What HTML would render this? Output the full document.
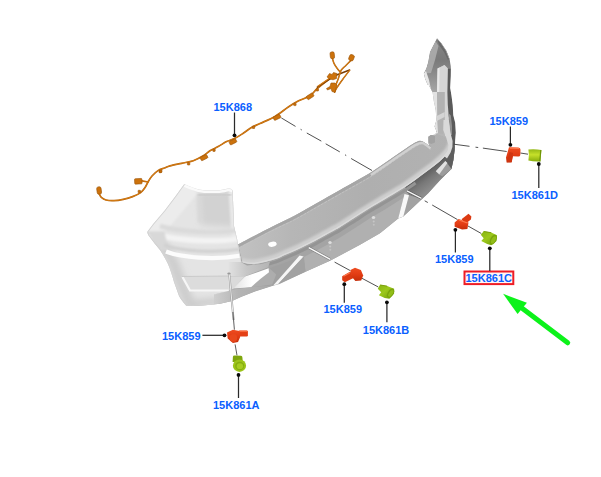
<!DOCTYPE html>
<html>
<head>
<meta charset="utf-8">
<title>Rear bumper parking sensors</title>
<style>
html,body{margin:0;padding:0;background:#fff;}
body{width:601px;height:477px;overflow:hidden;font-family:"Liberation Sans",sans-serif;}
svg{display:block;}
.lbl{font-family:"Liberation Sans",sans-serif;font-weight:bold;font-size:11px;fill:#0a60ff;}
.ld{stroke:#2a2a2a;stroke-width:1.25;fill:none;}
.dot{fill:#0a0a0a;}
.dash{stroke:#484848;stroke-width:0.95;fill:none;}
</style>
</head>
<body>
<svg width="601" height="477" viewBox="0 0 601 477">
<defs>
<filter id="b3" x="-20%" y="-20%" width="140%" height="140%"><feGaussianBlur stdDeviation="3"/></filter>
<filter id="b1" x="-20%" y="-20%" width="140%" height="140%"><feGaussianBlur stdDeviation="1.2"/></filter>
<filter id="b05" x="-20%" y="-20%" width="140%" height="140%"><feGaussianBlur stdDeviation="0.5"/></filter>
<linearGradient id="gRed" x1="0" y1="0" x2="0" y2="1"><stop offset="0" stop-color="#ee4c20"/><stop offset="0.5" stop-color="#e23c14"/><stop offset="1" stop-color="#c42e0a"/></linearGradient>
<linearGradient id="gGrn" x1="0" y1="0" x2="0" y2="1"><stop offset="0" stop-color="#93b816"/><stop offset="0.45" stop-color="#c6e02a"/><stop offset="1" stop-color="#86ac0c"/></linearGradient>
<linearGradient id="gGrnD" x1="0" y1="0" x2="1" y2="1"><stop offset="0" stop-color="#86b412"/><stop offset="0.45" stop-color="#9cc81c"/><stop offset="1" stop-color="#6c980a"/></linearGradient>
</defs>
<rect width="601" height="477" fill="#ffffff"/>

<!-- BUMPER -->
<g id="bumper">
<path d="M238 244.5 L253 236.6 L260 232.9 L276 224.8 L290 218.1 L299 213.3 L310 207 L340 190 L370 173 L390 159.4 L403.4 150.2 L415.2 142.6 L421 140.9 L426 143.4 L429.5 146.5 L428.5 143 L428.5 137 L431 135 L435 135.5 L437 133 L435.5 127 L454.8 128 L454.8 142 L454.6 150 L453.4 160 L451.4 169 L445 175.3 L440 180.3 L428.2 193.3 L421.5 199.6 L403.3 216.5 L398.2 218.4 L380 233.2 L360 244.8 L330 260.8 L305.5 271.8 L279.5 284 L273 285.8 L255 291.5 L241.6 296.8 L232 301 L220 303.7 L200 305.7 L186 305.5 L200 270 Z" fill="#a4a4a4"/>
<path d="M304 257 L325 246 L340 237.5 L355 228 L370 218.3 L385 209.5 L404.5 197 L398.2 218.4 L380 233.2 L360 244.8 L330 260.8 L305.5 271.8 Z" fill="#b0b0b0"/>
<linearGradient id="gRF" gradientUnits="userSpaceOnUse" x1="428" y1="170" x2="438" y2="184"><stop offset="0" stop-color="#5e5e5e"/><stop offset="0.45" stop-color="#787878"/><stop offset="1" stop-color="#8c8c8c"/></linearGradient>
<path d="M405 186.5 L415 179.5 L425 172 L435 164.5 L443.3 157 L449.4 149.5 L452.2 141 L454.8 140 L454.6 150 L453.4 160 L451.4 169 L445 175.3 L440 180.3 L428.2 193.3 L421.5 199.6 L409 195.2 Z" fill="url(#gRF)"/>
<path d="M449.4 150.5 L452.2 142 L454.8 140 L454.6 150 L453.4 160 L451.4 169 L447.4 163 L445.4 161.1 Z" fill="#5e5e5e"/>
<linearGradient id="gTS" gradientUnits="userSpaceOnUse" x1="238" y1="0" x2="452" y2="0"><stop offset="0" stop-color="#c2c2c2"/><stop offset="0.25" stop-color="#b6b6b6"/><stop offset="0.6" stop-color="#afafaf"/><stop offset="1" stop-color="#b2b2b2"/></linearGradient>
<path d="M238.00 244.50 C240.50 243.18 249.33 238.53 253.00 236.60 C256.67 234.67 256.17 234.87 260.00 232.90 C263.83 230.93 271.00 227.27 276.00 224.80 C281.00 222.33 286.17 220.02 290.00 218.10 C293.83 216.18 295.67 215.15 299.00 213.30 C302.33 211.45 303.17 210.88 310.00 207.00 C316.83 203.12 330.00 195.67 340.00 190.00 C350.00 184.33 361.67 178.10 370.00 173.00 C378.33 167.90 384.43 163.20 390.00 159.40 C395.57 155.60 399.20 153.00 403.40 150.20 C407.60 147.40 412.27 144.15 415.20 142.60 C418.13 141.05 419.20 140.77 421.00 140.90 C422.80 141.03 424.58 142.47 426.00 143.40 C427.42 144.33 428.92 145.98 429.50 146.50 L428.5 143 L428.5 137 L431 135 L435 135.5 L437 133 L435.5 127 L452.3 128 L452.50 128.00 C452.45 130.33 452.72 138.25 452.20 142.00 C451.68 145.75 450.88 147.83 449.40 150.50 C447.92 153.17 445.70 155.53 443.30 158.00 C440.90 160.47 438.05 162.83 435.00 165.30 C431.95 167.77 428.33 170.30 425.00 172.80 C421.67 175.30 418.33 177.90 415.00 180.30 C411.67 182.70 408.33 185.03 405.00 187.20 C401.67 189.37 398.33 191.30 395.00 193.30 C391.67 195.30 389.17 196.75 385.00 199.20 C380.83 201.65 375.00 204.93 370.00 208.00 C365.00 211.07 360.00 214.40 355.00 217.60 C350.00 220.80 343.33 225.13 340.00 227.20 C336.67 229.27 337.50 228.62 335.00 230.00 C332.50 231.38 328.33 233.67 325.00 235.50 C321.67 237.33 318.33 239.25 315.00 241.00 C311.67 242.75 308.33 244.37 305.00 246.00 C301.67 247.63 298.33 249.30 295.00 250.80 C291.67 252.30 288.33 253.58 285.00 255.00 C281.67 256.42 279.50 257.87 275.00 259.30 C270.50 260.73 262.17 262.82 258.00 263.60 C253.83 264.38 252.58 264.17 250.00 264.00 C247.42 263.83 243.75 262.83 242.50 262.60 Z" fill="url(#gTS)"/>
<clipPath id="topClip"><path d="M238.00 244.50 C240.50 243.18 249.33 238.53 253.00 236.60 C256.67 234.67 256.17 234.87 260.00 232.90 C263.83 230.93 271.00 227.27 276.00 224.80 C281.00 222.33 286.17 220.02 290.00 218.10 C293.83 216.18 295.67 215.15 299.00 213.30 C302.33 211.45 303.17 210.88 310.00 207.00 C316.83 203.12 330.00 195.67 340.00 190.00 C350.00 184.33 361.67 178.10 370.00 173.00 C378.33 167.90 384.43 163.20 390.00 159.40 C395.57 155.60 399.20 153.00 403.40 150.20 C407.60 147.40 412.27 144.15 415.20 142.60 C418.13 141.05 419.20 140.77 421.00 140.90 C422.80 141.03 424.58 142.47 426.00 143.40 C427.42 144.33 428.92 145.98 429.50 146.50 L428.5 143 L428.5 137 L431 135 L435 135.5 L437 133 L435.5 127 L452.3 128 L452.50 128.00 C452.45 130.33 452.72 138.25 452.20 142.00 C451.68 145.75 450.88 147.83 449.40 150.50 C447.92 153.17 445.70 155.53 443.30 158.00 C440.90 160.47 438.05 162.83 435.00 165.30 C431.95 167.77 428.33 170.30 425.00 172.80 C421.67 175.30 418.33 177.90 415.00 180.30 C411.67 182.70 408.33 185.03 405.00 187.20 C401.67 189.37 398.33 191.30 395.00 193.30 C391.67 195.30 389.17 196.75 385.00 199.20 C380.83 201.65 375.00 204.93 370.00 208.00 C365.00 211.07 360.00 214.40 355.00 217.60 C350.00 220.80 343.33 225.13 340.00 227.20 C336.67 229.27 337.50 228.62 335.00 230.00 C332.50 231.38 328.33 233.67 325.00 235.50 C321.67 237.33 318.33 239.25 315.00 241.00 C311.67 242.75 308.33 244.37 305.00 246.00 C301.67 247.63 298.33 249.30 295.00 250.80 C291.67 252.30 288.33 253.58 285.00 255.00 C281.67 256.42 279.50 257.87 275.00 259.30 C270.50 260.73 262.17 262.82 258.00 263.60 C253.83 264.38 252.58 264.17 250.00 264.00 C247.42 263.83 243.75 262.83 242.50 262.60 Z"/></clipPath>
<g clip-path="url(#topClip)">
<path d="M241.50 260.40 C242.75 260.63 246.42 261.63 249.00 261.80 C251.58 261.97 252.83 262.18 257.00 261.40 C261.17 260.62 269.50 258.53 274.00 257.10 C278.50 255.67 280.67 254.22 284.00 252.80 C287.33 251.38 290.67 250.10 294.00 248.60 C297.33 247.10 300.67 245.43 304.00 243.80 C307.33 242.17 310.67 240.55 314.00 238.80 C317.33 237.05 320.67 235.13 324.00 233.30 C327.33 231.47 331.50 229.18 334.00 227.80 C336.50 226.42 335.67 227.07 339.00 225.00 C342.33 222.93 349.00 218.60 354.00 215.40 C359.00 212.20 364.00 208.87 369.00 205.80 C374.00 202.73 379.83 199.45 384.00 197.00 C388.17 194.55 390.67 193.10 394.00 191.10 C397.33 189.10 400.67 187.17 404.00 185.00 C407.33 182.83 410.67 180.50 414.00 178.10 C417.33 175.70 420.67 173.10 424.00 170.60 C427.33 168.10 430.95 165.57 434.00 163.10 C437.05 160.63 439.90 158.27 442.30 155.80 C444.70 153.33 446.92 150.97 448.40 148.30 C449.88 145.63 450.68 143.55 451.20 139.80 C451.72 136.05 451.45 128.13 451.50 125.80" fill="none" stroke="#cfcfcf" stroke-width="5" filter="url(#b1)"/>
<path d="M242.30 262.00 C243.55 262.23 247.22 263.23 249.80 263.40 C252.38 263.57 253.63 263.78 257.80 263.00 C261.97 262.22 270.30 260.13 274.80 258.70 C279.30 257.27 281.47 255.82 284.80 254.40 C288.13 252.98 291.47 251.70 294.80 250.20 C298.13 248.70 301.47 247.03 304.80 245.40 C308.13 243.77 311.47 242.15 314.80 240.40 C318.13 238.65 321.47 236.73 324.80 234.90 C328.13 233.07 332.30 230.78 334.80 229.40 C337.30 228.02 336.47 228.67 339.80 226.60 C343.13 224.53 349.80 220.20 354.80 217.00 C359.80 213.80 364.80 210.47 369.80 207.40 C374.80 204.33 380.63 201.05 384.80 198.60 C388.97 196.15 391.47 194.70 394.80 192.70 C398.13 190.70 401.47 188.77 404.80 186.60 C408.13 184.43 411.47 182.10 414.80 179.70 C418.13 177.30 421.47 174.70 424.80 172.20 C428.13 169.70 431.75 167.17 434.80 164.70 C437.85 162.23 440.70 159.87 443.10 157.40 C445.50 154.93 447.72 152.57 449.20 149.90 C450.68 147.23 451.48 145.15 452.00 141.40 C452.52 137.65 452.25 129.73 452.30 127.40" fill="none" stroke="#dadada" stroke-width="1.8" stroke-linejoin="round"/>
<path d="M238.60 245.70 C241.10 244.38 249.93 239.73 253.60 237.80 C257.27 235.87 256.77 236.07 260.60 234.10 C264.43 232.13 271.60 228.47 276.60 226.00 C281.60 223.53 286.77 221.22 290.60 219.30 C294.43 217.38 296.27 216.35 299.60 214.50 C302.93 212.65 303.77 212.08 310.60 208.20 C317.43 204.32 330.60 196.87 340.60 191.20 C350.60 185.53 362.27 179.30 370.60 174.20 C378.93 169.10 385.03 164.40 390.60 160.60 C396.17 156.80 399.80 154.20 404.00 151.40 C408.20 148.60 412.87 145.35 415.80 143.80 C418.73 142.25 419.80 141.97 421.60 142.10 C423.40 142.23 425.18 143.67 426.60 144.60 C428.02 145.53 429.52 147.18 430.10 147.70" fill="none" stroke="#a6a6a6" stroke-width="3"/>
<path d="M239.50 247.70 C242.00 246.38 250.83 241.73 254.50 239.80 C258.17 237.87 257.67 238.07 261.50 236.10 C265.33 234.13 272.50 230.47 277.50 228.00 C282.50 225.53 287.67 223.22 291.50 221.30 C295.33 219.38 297.17 218.35 300.50 216.50 C303.83 214.65 304.67 214.08 311.50 210.20 C318.33 206.32 331.50 198.87 341.50 193.20 C351.50 187.53 363.17 181.30 371.50 176.20 C379.83 171.10 385.93 166.40 391.50 162.60 C397.07 158.80 400.70 156.20 404.90 153.40 C409.10 150.60 413.77 147.35 416.70 145.80 C419.63 144.25 420.70 143.97 422.50 144.10 C424.30 144.23 426.08 145.67 427.50 146.60 C428.92 147.53 430.42 149.18 431.00 149.70" fill="none" stroke="#c4c4c4" stroke-width="0.9" stroke-dasharray="3 1"/>
<path d="M370.90 175.00 C374.23 172.73 385.33 165.20 390.90 161.40 C396.47 157.60 400.10 155.00 404.30 152.20 C408.50 149.40 413.17 146.15 416.10 144.60 C419.03 143.05 420.10 142.77 421.90 142.90 C423.70 143.03 425.48 144.47 426.90 145.40 C428.32 146.33 429.82 147.98 430.40 148.50" fill="none" stroke="#d0d0d0" stroke-width="2.4" stroke-linejoin="round"/>
</g>
<path d="M258.60 266.40 C261.43 265.68 271.10 263.53 275.60 262.10 C280.10 260.67 282.27 259.22 285.60 257.80 C288.93 256.38 292.27 255.10 295.60 253.60 C298.93 252.10 302.27 250.43 305.60 248.80 C308.93 247.17 312.27 245.55 315.60 243.80 C318.93 242.05 322.27 240.13 325.60 238.30 C328.93 236.47 333.10 234.18 335.60 232.80 C338.10 231.42 337.27 232.07 340.60 230.00 C343.93 227.93 350.60 223.60 355.60 220.40 C360.60 217.20 365.60 213.87 370.60 210.80 C375.60 207.73 381.43 204.45 385.60 202.00 C389.77 199.55 392.27 198.10 395.60 196.10 C398.93 194.10 402.27 192.17 405.60 190.00 C408.93 187.83 413.93 184.25 415.60 183.10" fill="none" stroke="#949494" stroke-width="3" stroke-linejoin="round"/>
<ellipse cx="272.4" cy="244.2" rx="4.3" ry="2.6" fill="#ffffff" transform="rotate(-8 272.4 244.2)"/>
<ellipse cx="330" cy="242.5" rx="1.7" ry="1.5" fill="#dedede"/>
<circle cx="330.2" cy="246.5" r="1" fill="#c6c6c6"/>
<circle cx="330.3" cy="249.8" r="1" fill="#c2c2c2"/>
<ellipse cx="373.5" cy="217.5" rx="1.7" ry="1.5" fill="#dedede"/>
<circle cx="373.7" cy="221.5" r="1" fill="#c6c6c6"/>
<circle cx="373.8" cy="224.8" r="1" fill="#c2c2c2"/>
<path d="M270 268 L302 256.5 L273.5 285.5 L253.5 287 Z" fill="#a0a0a0"/>
<path d="M273.2 285.6 L299.6 255.6 L303.6 256.6 L278.2 284 Z" fill="#f6f6f6"/>
<path d="M278.2 284 L303.6 256.8 L305.5 271.8 Z" fill="#a2a2a2"/>
<path d="M404.5 193.9 L409 195.2 L421.5 199.6 L403.3 216.5 L398.2 218.4 Z" fill="#a2a2a2"/>
<path d="M404.5 193.9 L409 195.2 L403.3 216.5 L398.2 218.4 Z" fill="#f8f8f8"/>
<path d="M435.8 171.2 L445.4 161.1 L451.4 169 L442.3 176.2 L438.8 174.5 Z" fill="#9c9c9c"/>
<path d="M435.8 171.2 L445.4 161.1 L447.4 163.1 L439.3 174.2 Z" fill="#e2e2e2"/>
<!-- lower-left: face under rim, reflector, lip -->
<linearGradient id="gLF" gradientUnits="userSpaceOnUse" x1="228" y1="0" x2="270" y2="0"><stop offset="0" stop-color="#e2e2e2"/><stop offset="0.45" stop-color="#c6c6c6"/><stop offset="1" stop-color="#b4b4b4"/></linearGradient>
<path d="M228 262 L241.6 262.5 L247 265.5 L261.6 264 L270 261.5 L268.2 267.3 L245 276.3 L228 276.3 Z" fill="url(#gLF)"/>
<path d="M228 276.3 L245 276.3 L233 289 L228 291 Z" fill="#dadada"/>
<path d="M268.2 267.3 L276.2 274.6 L272.2 284.6 L251 287.3 L260.3 278 L268.2 272 Z" fill="#adadad"/>
<linearGradient id="gRefl" gradientUnits="userSpaceOnUse" x1="233" y1="0" x2="252" y2="0"><stop offset="0" stop-color="#e2e2e2"/><stop offset="0.55" stop-color="#f2f2f2"/><stop offset="1" stop-color="#ffffff"/></linearGradient>
<path d="M233 288.6 L245 276.6 L268.6 268.2 L269 272.2 L260.3 279 L251 287.3 Z" fill="url(#gRefl)"/>
<linearGradient id="gLip" gradientUnits="userSpaceOnUse" x1="215" y1="0" x2="274" y2="0"><stop offset="0" stop-color="#cecece"/><stop offset="0.4" stop-color="#b4b4b4"/><stop offset="1" stop-color="#a8a8a8"/></linearGradient>
<path d="M213 294.5 L233 289.5 L251 287.3 L273.6 285.3 L255 291.3 L241.6 296.6 L232 301 L220 303.7 L213 304.6 Z" fill="url(#gLip)"/>
<!-- left cap -->
<clipPath id="capClip"><path d="M184.3 184.1 Q188 186 192.8 187.5 Q198 189.8 204.2 190.3 L219.2 190.3 Q225 189.5 228.7 188.3 Q231.5 188.3 232.6 190.3 L233.4 209 L234 226 L237.2 239.2 L239 250.5 L241.5 262.5 L228.5 262.5 L228.5 291 L232 290 L214 294.5 L214 304.6 L200 305.7 L186 305.5 Q181 300 179 296 L174 282 Q171 271 168 264 Q164 256 160 250 L155 244 L148.5 235.4 Q146.8 233 147.5 231.6 L153.2 224 L164.5 210.8 L175.8 195.8 Z"/></clipPath>
<g clip-path="url(#capClip)">
<rect x="140" y="180" width="120" height="130" fill="#e4e4e4"/>
<g filter="url(#b3)">
<path d="M199 192 L233 190 L236 227 L201 225 Z" fill="#d2d2d2"/>
<path d="M150 236 L168 264 L174 282 L186 310 L198 310 L186 280 L178 260 L164 240 Z" fill="#cdcdcd"/>
<path d="M186 308 L240 302 L240 296 L192 300 Z" fill="#cccccc"/>
</g>
<g filter="url(#b1)">
<path d="M184 182 L143 231 L166 231 L198 193 Z" fill="#ececec"/>
<path d="M196.5 193 L201 193 L202 224 L197.5 222 Z" fill="#d6d6d6" opacity="0.6"/>
<path d="M228.5 190 L234 190 L239 240 L232 240 Z" fill="#e9e9e9"/>
<path d="M160 226 C175 231 215 234.5 238 230" fill="none" stroke="#dadada" stroke-width="4.5"/>
<path d="M158 232 C175 237 215 240.5 240 236 L240 241 C215 246 175 243 160 238 Z" fill="#f3f3f3"/>
<path d="M147.5 231.6 L164.5 231.6 L168.3 250.5 L160 250 Z" fill="#d8d8d8"/>
<path d="M164 245 C180 251 215 253.5 241 249" fill="none" stroke="#d0d0d0" stroke-width="3"/>
</g>
<path d="M166 251.5 C180 257.5 215 260.5 241.5 255.5" fill="none" stroke="#fcfcfc" stroke-width="4.2"/>
<path d="M184.3 185.6 Q188 187.5 192.8 189 Q198 191.3 204.2 191.8 L219.2 191.8 Q225 191 228.7 189.8 L232.6 191.3" fill="none" stroke="#fafafa" stroke-width="2.4"/>
<path d="M198 195 L231 194.5" fill="none" stroke="#cccccc" stroke-width="3" filter="url(#b1)"/>
<path d="M184.3 184.1 L175.8 195.8 L164.5 210.8 L153.2 224 L147.5 231.6 L148.5 235.4 L155 244 L160 250 L168 264 L174 282 L179 296 L186 305.5 L200 305.7" fill="none" stroke="#d0d0d0" stroke-width="1.4"/>
<path d="M232.6 190.3 L233.4 209 L234 226 L237.2 239.2 L239 250.5 L241.5 262.5" fill="none" stroke="#d6d6d6" stroke-width="1.2"/>
<!-- recess -->
<path d="M182 276.5 L229 276 L229 291 L189.5 291 Z" fill="#dcdcdc"/>
<path d="M182.5 277 L190 290.5 L229 290.5" fill="none" stroke="#f6f6f6" stroke-width="2.2"/>
<path d="M182 276.5 L229 276" fill="none" stroke="#c4c4c4" stroke-width="0.8"/>
</g>
<!-- sensor hole + rod -->
<ellipse cx="229" cy="273.6" rx="1.6" ry="1.2" fill="#9a9a9a"/>
<path d="M229.3 274.5 L233.6 320" stroke="#9a9a9a" stroke-width="2" fill="none"/>
<path d="M229.3 274.5 L233.6 320" stroke="#f4f4f4" stroke-width="0.9" fill="none"/>
<!-- right end vertical -->
<clipPath id="endClip"><path d="M437 38.3 L441.4 43.3 L446.4 50.8 L449.5 58.4 L450.8 65.9 L450.8 76 L450.2 88 L451.4 95 L452.7 105.1 L453.3 115.2 L455.2 122.7 L455.8 132.7 L455.2 140.3 L454.8 146 L449 146 L447 138 L437 134 L432.6 135.3 L437 132.7 L434.5 126.5 L436.4 120 L435.7 110 L433.8 101.3 L432.6 92.5 L428.8 85 L427.6 84.8 L425 78.5 L423.8 73.5 L426.3 68.4 L428.2 62.2 L430 52.1 L433.8 44.6 Z"/></clipPath>
<g clip-path="url(#endClip)">
<rect x="420" y="35" width="40" height="115" fill="#b6b6b6"/>
<!-- dark upper cavity -->
<linearGradient id="gCav" gradientUnits="userSpaceOnUse" x1="0" y1="38" x2="0" y2="92"><stop offset="0" stop-color="#868686"/><stop offset="0.4" stop-color="#7a7a7a"/><stop offset="0.62" stop-color="#888888"/><stop offset="1" stop-color="#a6a6a6"/></linearGradient>
<path d="M437 38.3 L433.8 44.6 L430 52.1 L428.2 62.2 L426.3 68.4 L423.8 73.5 L425 78.5 L427.6 84.8 L430 92 L437.2 92 L437.6 68.4 L444.5 64.9 L447.9 68.4 L451 68.4 L449.5 58.4 L446.4 50.8 L441.4 43.3 Z" fill="url(#gCav)"/>
<path d="M435.5 41 L430 52.1 L428.2 62.2 L426.3 68.4 L423.8 73.5 L431 73 L435 60 L438.5 46 Z" fill="#b0b0b0" opacity="0.85" filter="url(#b05)"/>
<path d="M437 38.3 L441.4 43.3 L446.4 50.8 L449.5 58.4 L448 60 L444 52 L439 45 Z" fill="#6a6a6a"/>

<path d="M423.8 73.5 L426 71 L429 80 L431.5 92 L430 92 L427.6 84.8 L425 78.5 Z" fill="#e6e6e6"/>
<path d="M437.4 38.8 L441.6 43.6 L446.4 51 L449.2 58.4" fill="none" stroke="#c4c4c4" stroke-width="0.8"/>
<!-- light panel -->
<path d="M437.6 68.4 L444.5 64.9 L447.9 68.4 L448.7 92 L448.4 105 L448.6 125 L449.5 136 L445 136 L444.6 120 L444.6 92 L437 92 Z" fill="#d6d6d6"/>
<path d="M437.6 68.4 L439.6 67.4 L439.2 92 L437 92 Z" fill="#e9e9e9"/>
<!-- main gray stripe lower -->
<path d="M437 92 L444.6 92 L444.6 122 L443 134 L437 133 L434.5 126.5 L436.4 120 L435.7 110 Z" fill="#b2b2b2"/>
<path d="M436.8 116 L444.6 112 L444.6 117 L436.8 121 Z" fill="#d4d4d4"/>
<!-- left whitish flange -->
<path d="M428.8 85 L432.6 92.5 L433.8 101.3 L435.7 110 L436.4 120 L434.5 126.5 L437 132.7 L432.6 135.3 L438 133 L437.2 120 L437 92 L431.5 92 Z" fill="#e2e2e2"/>
<!-- dark right band -->
<path d="M447.9 68.4 L451 68.4 L450.8 76 L450.2 88 L451.4 95 L452.7 105.1 L453.3 115.2 L455.2 122.7 L455.8 132.7 L455.2 140.3 L454.8 146 L450.6 146 L450.8 132 L449.2 120 L447.8 105 L447.4 92 Z" fill="#5a5a5a"/>
<path d="M448.4 113 L450.8 115.5 L452 126 L452 135 L450.8 135 L449.4 122 Z" fill="#909090"/>
</g>
<path d="M443.5 120 L448.8 120 L450.4 132.6 L452.6 141 L452.4 147 L450.6 152.5 L447 158.5 L444.6 156.5 L447.8 151 L448.4 145 L446 137 L443.2 130 Z" fill="#d9d9d9"/>
<path d="M428.4 136.5 L431 135 L435 135.8 L435 142.5 L431 144 L428.6 142.5 Z" fill="#a2a2a2"/>
</g>


<!-- rods -->
<path d="M308.7 247.6 L330.3 259.4" stroke="#777" stroke-width="2.6" fill="none"/>
<path d="M308.7 247.6 L330.3 259.4" stroke="#fafafa" stroke-width="1.5" fill="none"/>
<path d="M407 190.8 L421.5 198.3" stroke="#555" stroke-width="2.6" fill="none"/>
<path d="M407 190.8 L421.5 198.3" stroke="#f6f6f6" stroke-width="1.4" fill="none"/>
<!-- DASH LINES -->
<g class="dash">
<path d="M281.3 117.9 L295.5 126.4 M300.6 129.3 L301.8 130 M306.8 133 L321.3 141.1 M325.7 143.8 L339.8 151.9 M345 154.8 L346.2 155.5 M351.1 158.5 L372 170.5"/>
<path d="M334.6 262.1 L350.4 270.7 M362 278.3 L378.3 287"/>
<path d="M424.7 200.8 L427.8 202.5 M432.2 205 L457.5 219.6 M468 226 L481.3 233.5"/>
<path d="M453.7 144.2 L469.5 146.3 M475.5 147.2 L478.2 147.5 M482.9 148.1 L506.7 151.5 M520.4 153 L528 154.2"/>
<path d="M232.9 312 L234.4 329.7 M235.1 344.4 L237 355.4" stroke="#555"/>
</g>

<!-- HARNESS -->
<g fill="none" stroke-linecap="round" stroke-linejoin="round">
<path d="M99.30 194.00 C99.63 194.55 100.18 196.30 101.30 197.30 C102.42 198.30 103.88 199.45 106.00 200.00 C108.12 200.55 111.12 200.72 114.00 200.60 C116.88 200.48 120.20 199.97 123.30 199.30 C126.40 198.63 129.72 197.72 132.60 196.60 C135.48 195.48 138.50 194.15 140.60 192.60 C142.70 191.05 143.97 189.07 145.20 187.30 C146.43 185.53 146.87 183.88 148.00 182.00 C149.13 180.12 150.33 177.90 152.00 176.00 C153.67 174.10 155.92 171.93 158.00 170.60 C160.08 169.27 162.50 168.78 164.50 168.00 C166.50 167.22 167.15 166.68 170.00 165.90 C172.85 165.12 177.72 164.17 181.60 163.30 C185.48 162.43 189.68 161.95 193.30 160.70 C196.92 159.45 200.52 157.45 203.30 155.80 C206.08 154.15 207.52 152.33 210.00 150.80 C212.48 149.27 215.43 148.13 218.20 146.60 C220.97 145.07 223.82 142.98 226.60 141.60 C229.38 140.22 232.13 139.68 234.90 138.30 C237.67 136.92 240.43 135.10 243.20 133.30 C245.97 131.50 248.70 129.13 251.50 127.50 C254.30 125.87 256.07 125.35 260.00 123.50 C263.93 121.65 270.38 119.15 275.10 116.40 C279.82 113.65 284.53 109.52 288.30 107.00 C292.07 104.48 294.08 103.18 297.70 101.30 C301.32 99.42 306.85 97.73 310.00 95.70 C313.15 93.67 313.93 91.47 316.60 89.10 C319.27 86.73 323.00 83.77 326.00 81.50 C329.00 79.23 333.17 76.50 334.60 75.50" stroke="#b86408" stroke-width="1.7"/>
<path d="M99.30 194.00 C99.63 194.55 100.18 196.30 101.30 197.30 C102.42 198.30 103.88 199.45 106.00 200.00 C108.12 200.55 111.12 200.72 114.00 200.60 C116.88 200.48 120.20 199.97 123.30 199.30 C126.40 198.63 129.72 197.72 132.60 196.60 C135.48 195.48 138.50 194.15 140.60 192.60 C142.70 191.05 143.97 189.07 145.20 187.30 C146.43 185.53 146.87 183.88 148.00 182.00 C149.13 180.12 150.33 177.90 152.00 176.00 C153.67 174.10 155.92 171.93 158.00 170.60 C160.08 169.27 162.50 168.78 164.50 168.00 C166.50 167.22 167.15 166.68 170.00 165.90 C172.85 165.12 177.72 164.17 181.60 163.30 C185.48 162.43 189.68 161.95 193.30 160.70 C196.92 159.45 200.52 157.45 203.30 155.80 C206.08 154.15 207.52 152.33 210.00 150.80 C212.48 149.27 215.43 148.13 218.20 146.60 C220.97 145.07 223.82 142.98 226.60 141.60 C229.38 140.22 232.13 139.68 234.90 138.30 C237.67 136.92 240.43 135.10 243.20 133.30 C245.97 131.50 248.70 129.13 251.50 127.50 C254.30 125.87 256.07 125.35 260.00 123.50 C263.93 121.65 270.38 119.15 275.10 116.40 C279.82 113.65 284.53 109.52 288.30 107.00 C292.07 104.48 294.08 103.18 297.70 101.30 C301.32 99.42 306.85 97.73 310.00 95.70 C313.15 93.67 313.93 91.47 316.60 89.10 C319.27 86.73 323.00 83.77 326.00 81.50 C329.00 79.23 333.17 76.50 334.60 75.50" stroke="#da8218" stroke-width="0.8"/>
<path d="M148 182 L142 180.9" stroke="#c8700e" stroke-width="1.6"/>
<path d="M317.3 87.2 L334.6 75.8 L349.6 70" stroke="#7a3c04" stroke-width="1.5"/>
<path d="M317.8 86.2 L334.6 74.8" stroke="#d87c12" stroke-width="1.1"/>
<path d="M332.50 58.60 C332.75 59.40 333.27 61.83 334.00 63.40 C334.73 64.97 335.85 66.55 336.90 68.00 C337.95 69.45 339.73 71.42 340.30 72.10" stroke="#b86408" stroke-width="1.5"/>
<path d="M332.50 58.60 C332.75 59.40 333.27 61.83 334.00 63.40 C334.73 64.97 335.85 66.55 336.90 68.00 C337.95 69.45 339.73 71.42 340.30 72.10" stroke="#da8218" stroke-width="0.7"/>
<path d="M350.70 60.60 C349.93 61.37 347.63 63.67 346.10 65.20 C344.57 66.73 342.55 68.37 341.50 69.80 C340.45 71.23 340.38 72.17 339.80 73.80 C339.22 75.43 338.68 77.68 338.00 79.60 C337.32 81.52 336.27 83.38 335.70 85.30 C335.13 87.22 334.78 90.13 334.60 91.10" stroke="#b86408" stroke-width="1.5"/>
<path d="M350.70 60.60 C349.93 61.37 347.63 63.67 346.10 65.20 C344.57 66.73 342.55 68.37 341.50 69.80 C340.45 71.23 340.38 72.17 339.80 73.80 C339.22 75.43 338.68 77.68 338.00 79.60 C337.32 81.52 336.27 83.38 335.70 85.30 C335.13 87.22 334.78 90.13 334.60 91.10" stroke="#da8218" stroke-width="0.7"/>
<path d="M349.60 70.40 C348.50 71.83 345.12 76.13 343.00 79.00 C340.88 81.87 338.30 85.38 336.90 87.60 C335.50 89.82 334.98 91.52 334.60 92.30" stroke="#b86408" stroke-width="1.5"/>
<path d="M349.60 70.40 C348.50 71.83 345.12 76.13 343.00 79.00 C340.88 81.87 338.30 85.38 336.90 87.60 C335.50 89.82 334.98 91.52 334.60 92.30" stroke="#da8218" stroke-width="0.7"/>
</g>
<g fill="#cc720c" stroke="#9c5406" stroke-width="0.6">
<rect x="96.9" y="186.8" width="4.4" height="7.4" rx="1.8" transform="rotate(-8 99 190.3)"/>
<rect x="134.6" y="178.6" width="7.4" height="5.4" rx="0.8" transform="rotate(-3 138 181)"/>
<rect x="330.2" y="51.9" width="4.2" height="6.8" rx="1.6" transform="rotate(-6 332.3 55.3)"/>
<rect x="349.1" y="54.7" width="4.8" height="6" rx="1.6" transform="rotate(22 351.5 57.7)"/>
<rect x="200.4" y="155.7" width="7.2" height="3.8" rx="0.7" transform="rotate(-27 204 157.6)"/>
<rect x="229.3" y="139.9" width="7.2" height="3.8" rx="0.7" transform="rotate(-27 232.9 141.8)"/>
<rect x="273.4" y="115.39999999999999" width="7.2" height="3.8" rx="0.7" transform="rotate(-25 277 117.3)"/>
<rect x="306.5" y="94.39999999999999" width="7.2" height="3.8" rx="0.7" transform="rotate(-33 310.1 96.3)"/>
<rect x="138.10000000000002" y="190.3" width="2.4" height="2.4" rx="0.5"/>
<rect x="159.0" y="170.3" width="2.4" height="2.4" rx="0.5"/>
<rect x="159.60000000000002" y="170.0" width="2.4" height="2.4" rx="0.5"/>
<rect x="187.4" y="162.60000000000002" width="2.4" height="2.4" rx="0.5"/>
<rect x="212.8" y="149.0" width="2.4" height="2.4" rx="0.5"/>
<rect x="252.3" y="126.1" width="2.4" height="2.4" rx="0.5"/>
<rect x="293.7" y="103.2" width="2.4" height="2.4" rx="0.5"/>
<rect x="316.1" y="88.6" width="2.4" height="2.4" rx="0.5"/>
<path d="M327 77 L329.5 73.5 L332 74.5 L333.5 72.5 L336.9 73.5 L336.5 78.5 L333 79.8 L330 79 Z"/>
<path d="M326.5 88.5 L330 86.5 L331 83 L335 83 L336.9 85 L335 92.3 L332 91.5 L331 88.5 L327.5 90 Z"/>
</g>
<!-- SENSORS -->
<g>
<path d="M509 147.3 L518.5 147.6 Q520.6 148 520.5 150 L520.3 155 Q520 156.8 518 156.6 L513 156.3 L511.6 162.4 L506.6 162.6 L506 157.5 Z" fill="url(#gRed)"/>
<path d="M509.5 152 L513 153 L511.6 162 L507 162.2 Z" fill="#cf3510"/>
<path d="M510 148.2 L519 148.5" stroke="#ff7a4e" stroke-width="1.2" fill="none"/>
<path d="M528.4 149.5 Q535 148.8 541.4 150 L540.4 161.4 Q534 161.8 528.4 160.4 Q529.4 155 528.4 149.5 Z" fill="url(#gGrn)"/>
<path d="M540.2 150 L541.4 150 L540.4 161.4 L539.2 161.3 Z" fill="#6e9408"/>
</g>
<g>
<path d="M461.5 219.3 L468.5 213.7 L471.4 216.6 L470.9 219.6 L465.5 223.8 Z" fill="#dc3a12"/>
<path d="M454.6 222.5 L458.6 219 L468.5 222.5 L467.4 228.9 L462.1 229.6 L454.6 226.7 Z" fill="url(#gRed)"/>
<path d="M459 220 L467.5 223" stroke="#ff7a4e" stroke-width="1.1" fill="none"/>
<path d="M480.8 234.7 L483.7 231.2 L491.2 232.4 L497 235.3 L496.5 241.1 L491.2 245.2 L487.2 244 L481.3 241.1 L483.7 238.2 Z" fill="url(#gGrnD)"/>
<ellipse cx="493.3" cy="239.6" rx="3" ry="5.3" transform="rotate(28 493.3 239.6)" fill="#7aa40c"/>
<ellipse cx="493.5" cy="239.8" rx="1.9" ry="3.9" transform="rotate(28 493.5 239.8)" fill="#92be18"/>
<path d="M483.7 231.5 L491.2 232.7" stroke="#7c9f0c" stroke-width="1" fill="none"/>
</g>
<g>
<path d="M342.2 276.3 L350.4 271.6 L353.6 278 L344.8 282.2 L342.2 280.2 Z" fill="#dc3a12"/>
<path d="M350.4 270.1 L355 267.8 L360.9 270.1 L363.2 275.6 L361.2 280.6 L355.4 280.9 L351.5 276.6 Z" fill="url(#gRed)"/>
<path d="M343.5 276.3 L350 272.7" stroke="#ff7a4e" stroke-width="1.1" fill="none"/>
<path d="M377.8 288.8 L380.1 284.7 L387.1 285.9 L394.1 288.8 L394.1 293.4 L389.4 298.7 L384.7 298.1 L378.9 295.2 L381.2 292.3 Z" fill="url(#gGrnD)"/>
<ellipse cx="390.6" cy="293.2" rx="2.9" ry="5.2" transform="rotate(32 390.6 293.2)" fill="#7aa40c"/>
<ellipse cx="390.8" cy="293.4" rx="1.8" ry="3.8" transform="rotate(32 390.8 293.4)" fill="#92be18"/>
<path d="M380.3 285 L387.1 286.2" stroke="#7c9f0c" stroke-width="1" fill="none"/>
</g>
<g>
<rect x="238.5" y="330.4" width="9.4" height="6" rx="1.2" fill="#e44016"/>
<path d="M227 332.6 L232.9 329.7 L239.5 331.1 L240.2 337 L238 342.1 L232.9 342.9 L227.7 338.5 Z" fill="url(#gRed)"/>
<ellipse cx="233.4" cy="338" rx="3.8" ry="4" fill="#e8481c"/>
<path d="M239.5 331.2 L247 331.2" stroke="#ff7a4e" stroke-width="1" fill="none"/>
<path d="M232.9 357 Q232.9 355.6 234.5 355.6 L241 355.8 Q242.4 356 242.4 357.4 L242.8 362 L232.6 362 Z" fill="#7ea60e"/>
<ellipse cx="239.5" cy="365.7" rx="6.6" ry="6.2" fill="#9cc41a"/>
<ellipse cx="239.7" cy="366" rx="4.6" ry="4.2" fill="#86ae10"/>
<ellipse cx="239.9" cy="366.2" rx="3.2" ry="2.9" fill="#a6cc22"/>
</g>
<!-- LABELS -->
<text class="lbl" x="213.5" y="111">15K868</text>
<text class="lbl" x="489.5" y="125">15K859</text>
<text class="lbl" x="511.5" y="198.7">15K861D</text>
<text class="lbl" x="435" y="263">15K859</text>
<text class="lbl" x="323.5" y="313">15K859</text>
<text class="lbl" x="362.8" y="334">15K861B</text>
<text class="lbl" x="162" y="339.6">15K859</text>
<text class="lbl" x="213" y="409">15K861A</text>
<rect x="464.5" y="271.5" width="48.8" height="12.6" fill="#fff5f5" stroke="#ee1c25" stroke-width="2"/>
<text class="lbl" x="465.5" y="282">15K861C</text>
<!-- LEADERS -->
<g class="ld">
<path d="M234.5 112.5 V135"/>
<path d="M510.4 126.5 V144.5"/>
<path d="M538.8 164 V188"/>
<path d="M455.4 230 V252.5"/>
<path d="M489.8 248.3 V271"/>
<path d="M344.3 284.5 V302.8"/>
<path d="M386.9 302.4 V322.3"/>
<path d="M202.4 335.3 H224.6"/>
<path d="M238.5 374.8 V398"/>
</g>
<g class="dot">
<circle cx="234.5" cy="135.3" r="1.9"/>
<circle cx="510.4" cy="144.8" r="1.9"/>
<circle cx="538.8" cy="164" r="1.9"/>
<circle cx="455.4" cy="229.8" r="1.9"/>
<circle cx="489.8" cy="248.3" r="1.9"/>
<circle cx="344.3" cy="284.2" r="1.9"/>
<circle cx="386.9" cy="302.3" r="1.9"/>
<circle cx="224.5" cy="335.3" r="1.9"/>
<circle cx="238.5" cy="374.9" r="1.9"/>
</g>
<!-- GREEN ARROW -->
<g>
<path d="M522.5 308.5 L567.7 342.8" stroke="#0cf21a" stroke-width="5" stroke-linecap="round" fill="none"/>
<path d="M503.1 293.8 L526.9 302.7 L517.6 314.1 Z" fill="#0cf21a"/>
</g>
</svg>
</body>
</html>
